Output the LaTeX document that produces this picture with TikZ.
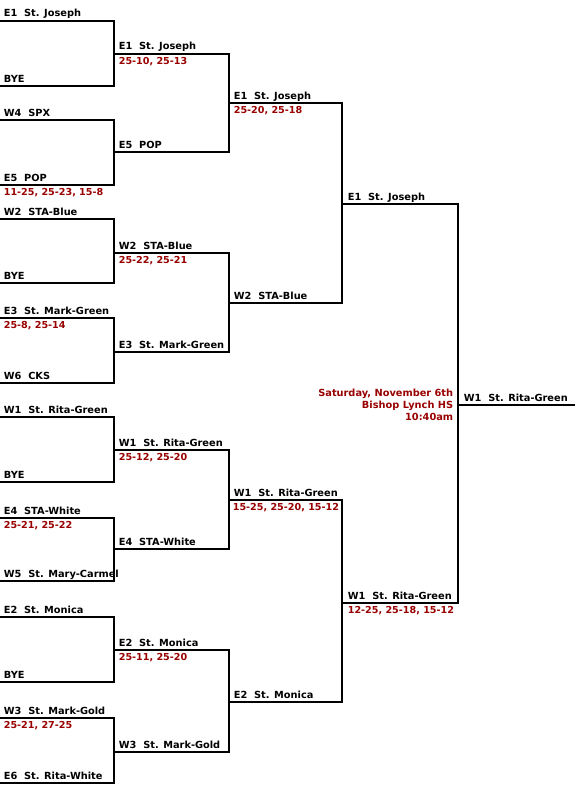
\documentclass[tikz,border=0pt]{standalone}
\usepackage{fontspec}
\setmainfont{DejaVu Sans}
\usetikzlibrary{positioning}
\definecolor{scorered}{RGB}{153,0,0}

\begin{document}
\begin{tikzpicture}[x=1pt, y=-1pt, line width=1.7pt,
    team/.style={font=\bfseries\fontsize{9.8}{11.7}\selectfont, anchor=base west, inner sep=0pt},
    score/.style={team, font=\bfseries\fontsize{9.6}{11.7}\selectfont, text=scorered},
    note/.style={font=\bfseries\fontsize{9.8}{11.7}\selectfont, text=scorered, align=right, anchor=north east, inner sep=0pt}]
    \useasboundingbox (0,0) rectangle (585,800);

    % 1. Runde 1 (Klammern)
    \foreach \t/\b in {21/86, 120/185, 219/283, 318/383, 417/482, 518/581, 617/682, 718/783}
      \draw (0,\t) -- (114,\t) -- (114,\b) -- (0,\b);

    % Runde 1 (Mannschaften)
    \foreach \y/\name [count=\i] in {21/E1~~St. Joseph, 86/BYE, 120/W4~~SPX, 185/E5~~POP,
        219/W2~~STA-Blue, 283/BYE, 318/E3~~St. Mark-Green, 383/W6~~CKS,
        417/W1~~St. Rita-Green, 482/BYE, 518/E4~~STA-White, 581/W5~~St. Mary-Carmel,
        617/E2~~St. Monica, 682/BYE, 718/W3~~St. Mark-Gold, 783/E6~~St. Rita-White}
      \node[team] (ra\i) at (3,\y-4) {\name};

    % Runde 1 (Ergebnisse)
    \node[score] (sa1) at (3,185+10.5) {11-25, 25-23, 15-8};
    \node[score] (sa2) at (3,318+10.5) {25-8, 25-14};
    \node[score] (sa3) at (3,518+10.5) {25-21, 25-22};
    \node[score] (sa4) at (3,718+10.5) {25-21, 27-25};

    % 2. Runde 2
    \foreach \t/\b in {54/152, 253/352, 450/549, 650/752}
      \draw (114,\t) -- (229,\t) -- (229,\b) -- (114,\b);
    \foreach \y/\name [count=\i] in {54/E1~~St. Joseph, 152/E5~~POP,
        253/W2~~STA-Blue, 352/E3~~St. Mark-Green,
        450/W1~~St. Rita-Green, 549/E4~~STA-White,
        650/E2~~St. Monica, 752/W3~~St. Mark-Gold}
      \node[team] (rb\i) at (118,\y-4) {\name};
    \foreach \y/\res [count=\i] in {54/{25-10, 25-13}, 253/{25-22, 25-21}, 450/{25-12, 25-20}, 650/{25-11, 25-20}}
      \node[score] (sb\i) at (118,\y+10.5) {\res};

    % 3. Runde 3
    \foreach \t/\b in {103/303, 500/702}
      \draw (229,\t) -- (342,\t) -- (342,\b) -- (229,\b);
    \node[team] (rc1) at (233,103-4) {E1~~St. Joseph};
    \node[team] (rc2) at (233,303-4) {W2~~STA-Blue};
    \node[team] (rc3) at (233,500-4) {W1~~St. Rita-Green};
    \node[team] (rc4) at (233,702-4) {E2~~St. Monica};
    \node[score] (sc1) at (233,103+10.5) {25-20, 25-18};
    \node[score] (sc2) at (232,500+10.5) {15-25, 25-20, 15-12};

    % 4. Halbfinale und Finale
    \draw (342,204) -- (458,204) -- (458,603) -- (342,603);
    \node[team] (rd1) at (347,204-4) {E1~~St. Joseph};
    \node[team] (rd2) at (347,603-4) {W1~~St. Rita-Green};
    \node[score] (sd1) at (347,603+10.5) {12-25, 25-18, 15-12};

    \draw (458,405) -- (575,405);
    \node[team] (win) at (463,405-4) {W1~~St. Rita-Green};

    % Termin
    \node[note] (info) at (454,388.6) {Saturday, November 6th\\Bishop Lynch HS\\10:40am};

\end{tikzpicture}
\end{document}
